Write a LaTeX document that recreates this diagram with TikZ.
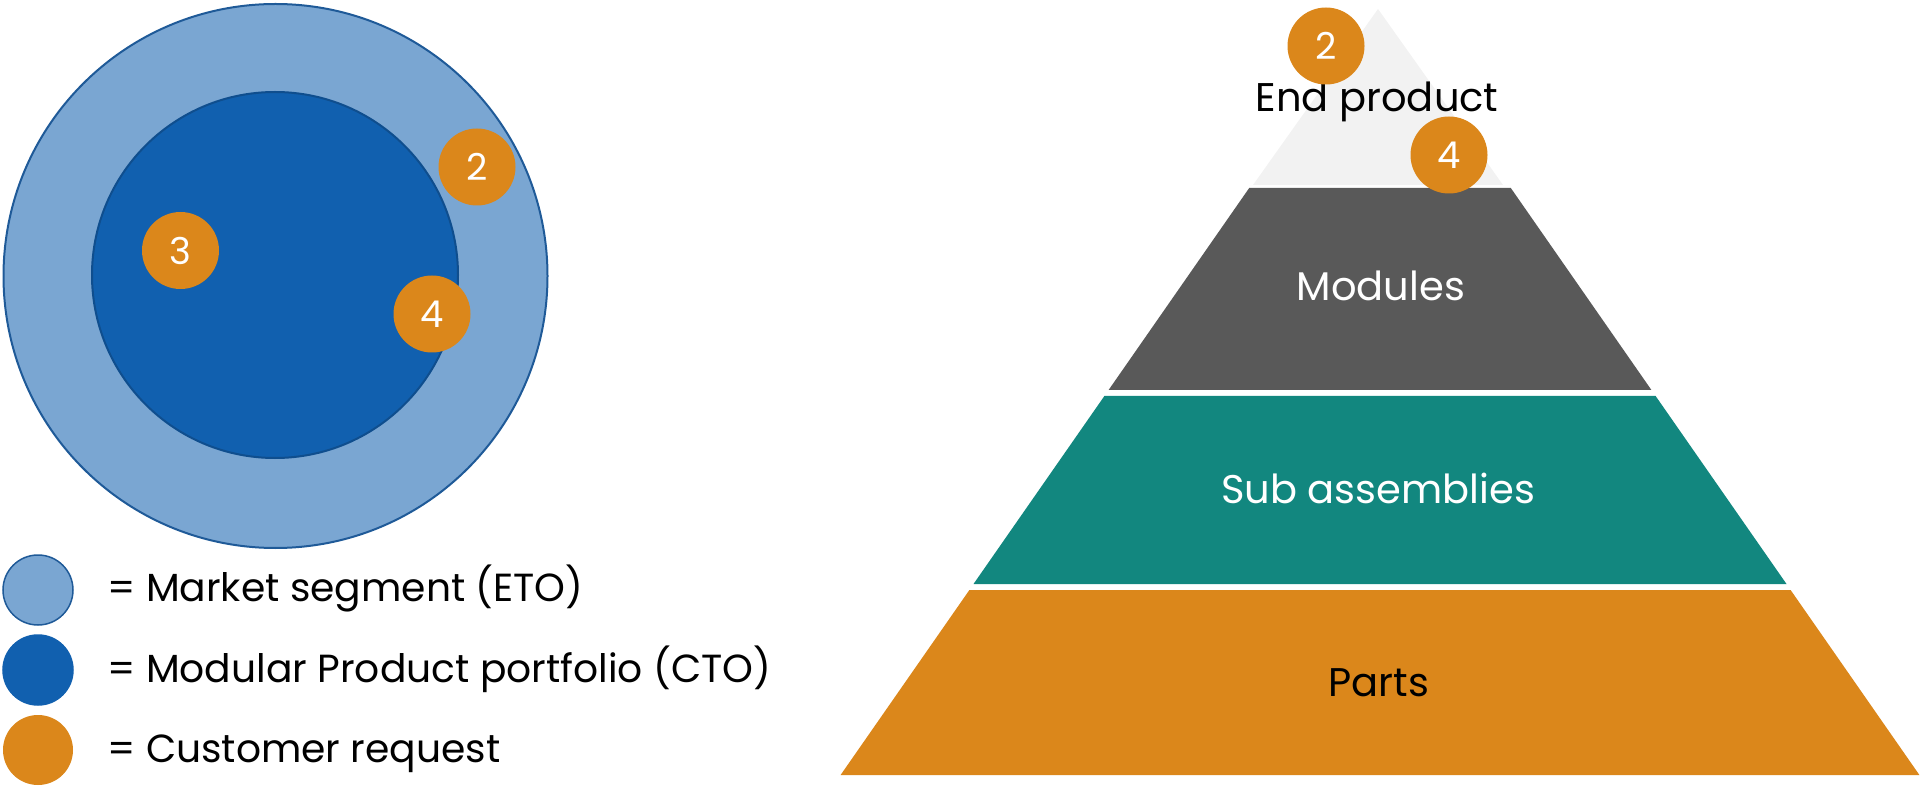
\documentclass[tikz,border=0pt]{standalone}
\usepackage{fontspec}
\setmainfont{Poppins}
\definecolor{lblue}{HTML}{7AA6D2}
\definecolor{dblue}{HTML}{1160AF}
\definecolor{bordblue}{HTML}{1F5A98}
\definecolor{inbord}{HTML}{0F4E8E}
\definecolor{corange}{HTML}{DB871B}
\definecolor{cteal}{HTML}{12877F}
\definecolor{cgrey}{HTML}{595959}
\definecolor{clight}{HTML}{F2F2F2}
\begin{document}
\begin{tikzpicture}[x=1pt,y=-1pt,
  badge/.style={circle, fill=corange, draw=none, minimum size=77pt, inner sep=0pt, text=white, font=\fontsize{37}{37}\selectfont},
  lbl/.style={font=\fontsize{40}{48}\selectfont, inner sep=0pt},
  leglbl/.style={font=\fontsize{39.2}{47}\selectfont, inner sep=0pt, anchor=base west},
  legdot/.style={circle, minimum size=70pt, inner sep=0pt, line width=1.5pt}]
\useasboundingbox (0,0) rectangle (1920,799);
% Venn circles
\node[circle, minimum size=544pt, inner sep=0pt, fill=lblue, draw=bordblue, line width=2pt] (outer) at (275.5,276) {};
\node[circle, minimum size=366pt, inner sep=0pt, fill=dblue, draw=inbord, line width=2pt] (inner) at (275,275) {};
\node[badge] (c2) at (477,167) {2};
\node[badge] (c3) at (180.5,250.5) {3};
\node[badge] (c4) at (432,314) {4};
% legend
\node[legdot, fill=lblue, draw=bordblue] (l1) at (38,590) {};
\node[legdot, fill=dblue, draw=dblue] (l2) at (38,670) {};
\node[legdot, fill=corange, draw=none] (l3) at (38,750) {};
\node[leglbl] (t1) at (107,601) {= Market segment (ETO)};
\node[leglbl] (t2) at (107,682) {= Modular Product portfolio (CTO)};
\node[leglbl] (t3) at (107,762) {= Customer request};
% pyramid
\fill[clight] (1378,9) -- (1503,185) -- (1253,185) -- cycle;
\fill[cgrey] (1249.2,188) -- (1510.8,188) -- (1651.4,390) -- (1108.6,390) -- cycle;
\fill[cteal] (1104.4,396) -- (1655.6,396) -- (1786.5,584) -- (973.5,584) -- cycle;
\fill[corange] (969.4,590) -- (1790.6,590) -- (1919.4,775) -- (840.6,775) -- cycle;
\node[lbl, anchor=base] (ep) at (1377,112) {End product};
\node[lbl, anchor=base, text=white] (mo) at (1381,301) {Modules};
\node[lbl, anchor=base, text=white] (sa) at (1378,503) {Sub assemblies};
\node[lbl, anchor=base] (pa) at (1379,696) {Parts};
\node[badge] (p2) at (1326,46) {2};
\node[badge] (p4) at (1449,155) {4};
\end{tikzpicture}
\end{document}
